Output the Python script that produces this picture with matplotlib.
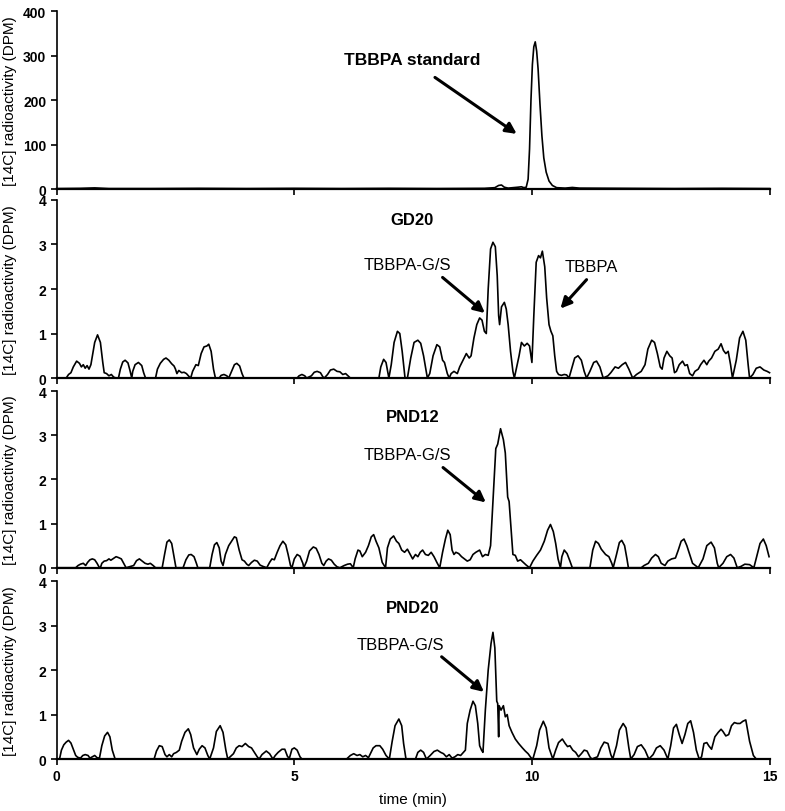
import matplotlib
matplotlib.use("Agg")
import matplotlib.pyplot as plt

plt.rcParams['font.family'] = ['Liberation Sans', 'DejaVu Sans']

# (time in min, DPM)
standard_points = [
    (0, 1), (0.5, 1.5), (0.8, 2.5), (1.1, 1), (2, 1), (3, 1.5), (4, 1), (5, 1.5), (6, 1),
    (7, 1.5), (8, 1), (9.0, 1.5), (9.22, 3), (9.3, 8), (9.36, 9), (9.42, 4), (9.5, 2),
    (9.6, 3), (9.7, 4), (9.78, 5), (9.83, 3), (9.88, 4), (9.92, 22), (9.95, 90), (9.98, 200),
    (10.01, 280), (10.04, 320), (10.07, 331), (10.1, 310), (10.13, 270), (10.17, 190),
    (10.21, 120), (10.25, 70), (10.3, 38), (10.36, 18), (10.43, 8), (10.52, 3), (10.7, 2),
    (10.85, 3.5), (11.0, 2), (12, 1.5), (13, 1), (14, 1.5), (15, 1),
]

gd20_points = [
    (0, 0), (0.2, 0), (0.25, 0.08), (0.3, 0.12), (0.35, 0.25), (0.42, 0.38), (0.48, 0.33),
    (0.52, 0.25), (0.56, 0.3), (0.6, 0.22), (0.64, 0.28), (0.68, 0.2), (0.72, 0.3),
    (0.76, 0.55), (0.8, 0.8), (0.86, 0.97), (0.92, 0.8), (0.97, 0.35), (1.0, 0.12),
    (1.05, 0.1), (1.1, 0.05), (1.15, 0.08), (1.2, 0.02), (1.25, 0),
    (1.3, 0), (1.34, 0.2), (1.39, 0.36), (1.44, 0.4), (1.5, 0.34), (1.54, 0.18), (1.58, 0),
    (1.6, 0.15), (1.65, 0.3), (1.72, 0.35), (1.79, 0.28), (1.83, 0.12), (1.87, 0),
    (2.08, 0), (2.12, 0.2), (2.18, 0.33), (2.25, 0.42), (2.3, 0.45), (2.36, 0.4), (2.42, 0.32),
    (2.47, 0.27), (2.5, 0.2), (2.53, 0.1), (2.57, 0.17), (2.63, 0.12), (2.68, 0.13),
    (2.73, 0.1), (2.78, 0.04), (2.82, 0),
    (2.86, 0.15), (2.93, 0.3), (2.98, 0.28), (3.04, 0.55), (3.1, 0.7), (3.16, 0.72),
    (3.2, 0.76), (3.25, 0.6), (3.3, 0.2), (3.34, 0),
    (3.42, 0), (3.46, 0.06), (3.52, 0.08), (3.58, 0.05), (3.62, 0),
    (3.68, 0.15), (3.74, 0.3), (3.79, 0.33), (3.85, 0.27), (3.9, 0.1), (3.94, 0),
    (5.06, 0), (5.1, 0.05), (5.16, 0.08), (5.22, 0.05), (5.26, 0),
    (5.36, 0.05), (5.42, 0.13), (5.48, 0.15), (5.55, 0.12), (5.6, 0.03), (5.63, 0),
    (5.7, 0.08), (5.76, 0.18), (5.83, 0.2), (5.9, 0.15), (5.96, 0.14), (6.02, 0.08),
    (6.08, 0.1), (6.13, 0.05), (6.18, 0),
    (6.78, 0), (6.82, 0.25), (6.88, 0.42), (6.93, 0.35), (6.99, 0),
    (7.04, 0.3), (7.1, 0.8), (7.17, 1.05), (7.22, 1.0), (7.27, 0.6), (7.33, 0),
    (7.38, 0), (7.45, 0.45), (7.52, 0.8), (7.6, 0.85), (7.66, 0.78), (7.72, 0.5), (7.8, 0),
    (7.85, 0.1), (7.92, 0.5), (8.0, 0.75), (8.06, 0.7), (8.12, 0.4), (8.16, 0.35),
    (8.22, 0.1), (8.26, 0),
    (8.3, 0.1), (8.36, 0.15), (8.43, 0.1), (8.48, 0.25), (8.55, 0.4), (8.62, 0.55),
    (8.68, 0.45), (8.72, 0.5), (8.78, 0.9), (8.84, 1.2), (8.9, 1.35), (8.95, 1.3),
    (9.0, 1.05), (9.04, 1.0), (9.08, 2.0), (9.13, 2.9), (9.18, 3.05), (9.23, 2.95),
    (9.27, 2.3), (9.3, 1.4), (9.32, 1.2), (9.36, 1.6), (9.42, 1.7), (9.46, 1.55), (9.5, 1.2),
    (9.55, 0.6), (9.6, 0.15), (9.63, 0),
    (9.67, 0.2), (9.73, 0.5), (9.78, 0.8), (9.84, 0.72), (9.9, 0.78), (9.95, 0.72),
    (10.0, 0.35), (10.04, 1.4), (10.09, 2.6), (10.14, 2.75), (10.18, 2.7), (10.22, 2.85),
    (10.27, 2.5), (10.31, 1.8), (10.36, 1.2), (10.4, 1.05), (10.44, 0.95), (10.48, 0.5),
    (10.52, 0.15), (10.56, 0.08), (10.62, 0.06), (10.68, 0.08), (10.73, 0.07), (10.78, 0),
    (10.82, 0.15), (10.9, 0.45), (10.97, 0.5), (11.04, 0.4), (11.1, 0.15), (11.15, 0),
    (11.22, 0.15), (11.3, 0.35), (11.36, 0.38), (11.43, 0.25), (11.5, 0),
    (11.6, 0.05), (11.66, 0.12), (11.75, 0.25), (11.82, 0.22), (11.9, 0.3), (11.97, 0.35),
    (12.04, 0.2), (12.12, 0),
    (12.2, 0.08), (12.3, 0.15), (12.38, 0.3), (12.44, 0.65), (12.52, 0.85), (12.58, 0.8),
    (12.64, 0.55), (12.7, 0.25), (12.74, 0.2), (12.78, 0.45), (12.84, 0.6), (12.9, 0.5),
    (12.95, 0.45), (13.0, 0.12), (13.04, 0.15), (13.1, 0.3), (13.17, 0.38), (13.22, 0.28),
    (13.27, 0.3), (13.32, 0.1), (13.38, 0.05), (13.43, 0.15), (13.5, 0.2), (13.55, 0.3),
    (13.62, 0.4), (13.68, 0.3), (13.72, 0.38), (13.78, 0.45), (13.85, 0.6), (13.92, 0.65),
    (13.98, 0.77), (14.03, 0.62), (14.08, 0.55), (14.13, 0.6), (14.18, 0.3), (14.22, 0),
    (14.3, 0.4), (14.37, 0.9), (14.44, 1.05), (14.5, 0.85), (14.55, 0.3), (14.58, 0),
    (14.65, 0.08), (14.72, 0.22), (14.8, 0.25), (14.88, 0.18), (14.95, 0.15), (15.0, 0.12),
]

pnd12_points = [
    (0, 0), (0.4, 0), (0.45, 0.05), (0.5, 0.08), (0.56, 0.1), (0.61, 0.05), (0.65, 0.12),
    (0.7, 0.18), (0.75, 0.2), (0.8, 0.18), (0.85, 0.1), (0.89, 0.02), (0.92, 0),
    (0.95, 0.1), (1.0, 0.15), (1.05, 0.16), (1.1, 0.2), (1.14, 0.17), (1.18, 0.2),
    (1.25, 0.25), (1.3, 0.23), (1.36, 0.2), (1.41, 0.1), (1.46, 0),
    (1.62, 0.05), (1.68, 0.16), (1.74, 0.2), (1.8, 0.15), (1.86, 0.1), (1.92, 0.08),
    (1.97, 0.1), (2.03, 0.05), (2.08, 0),
    (2.22, 0), (2.27, 0.3), (2.32, 0.58), (2.37, 0.63), (2.42, 0.55), (2.47, 0.25), (2.51, 0),
    (2.66, 0), (2.72, 0.18), (2.78, 0.29), (2.83, 0.3), (2.89, 0.25), (2.94, 0.1), (2.97, 0),
    (3.22, 0), (3.27, 0.3), (3.32, 0.52), (3.37, 0.57), (3.42, 0.45), (3.46, 0.15),
    (3.5, 0.05), (3.55, 0.3), (3.62, 0.5), (3.68, 0.6), (3.74, 0.7), (3.78, 0.68),
    (3.84, 0.4), (3.9, 0.18), (3.95, 0.15), (4.0, 0.08), (4.04, 0.05), (4.1, 0.12),
    (4.16, 0.17), (4.22, 0.15), (4.28, 0.06), (4.34, 0.03), (4.42, 0),
    (4.48, 0.12), (4.53, 0.2), (4.58, 0.18), (4.64, 0.35), (4.7, 0.5), (4.76, 0.6),
    (4.82, 0.52), (4.87, 0.3), (4.92, 0.05), (4.95, 0),
    (5.0, 0.2), (5.06, 0.3), (5.12, 0.26), (5.18, 0.1), (5.2, 0),
    (5.26, 0.15), (5.32, 0.38), (5.4, 0.47), (5.46, 0.44), (5.52, 0.3), (5.58, 0.1),
    (5.62, 0.05), (5.67, 0.15), (5.72, 0.2), (5.78, 0.17), (5.84, 0.08), (5.9, 0.02), (5.96, 0),
    (6.05, 0.05), (6.12, 0.08), (6.18, 0.09), (6.24, 0),
    (6.28, 0.2), (6.34, 0.4), (6.38, 0.38), (6.43, 0.25), (6.5, 0.35), (6.56, 0.5),
    (6.62, 0.7), (6.67, 0.75), (6.72, 0.6), (6.78, 0.45), (6.85, 0.12), (6.92, 0),
    (6.96, 0.45), (7.02, 0.65), (7.09, 0.72), (7.15, 0.6), (7.2, 0.55), (7.26, 0.4),
    (7.32, 0.35), (7.38, 0.42), (7.44, 0.3), (7.49, 0.2), (7.55, 0.3), (7.6, 0.25),
    (7.65, 0.35), (7.7, 0.4), (7.76, 0.3), (7.82, 0.28), (7.88, 0.35), (7.94, 0.25),
    (8.0, 0.12), (8.06, 0),
    (8.12, 0.35), (8.18, 0.65), (8.23, 0.85), (8.28, 0.75), (8.32, 0.4), (8.36, 0.3),
    (8.4, 0.35), (8.46, 0.32), (8.52, 0.25), (8.58, 0.2), (8.64, 0.15), (8.7, 0.18),
    (8.76, 0.3), (8.82, 0.35), (8.9, 0.4), (8.96, 0.25), (9.02, 0.3), (9.08, 0.28),
    (9.13, 0.5), (9.18, 1.5), (9.24, 2.7), (9.28, 2.8), (9.34, 3.15), (9.4, 2.9),
    (9.44, 2.6), (9.49, 1.6), (9.52, 1.5), (9.56, 0.9), (9.6, 0.3), (9.65, 0.28),
    (9.7, 0.15), (9.76, 0.18), (9.82, 0.12), (9.88, 0.06), (9.95, 0),
    (10.02, 0.15), (10.1, 0.28), (10.18, 0.4), (10.26, 0.6), (10.33, 0.85), (10.39, 0.98),
    (10.45, 0.82), (10.5, 0.55), (10.55, 0.2), (10.6, 0),
    (10.63, 0.25), (10.68, 0.4), (10.74, 0.32), (10.8, 0.15), (10.85, 0),
    (11.22, 0), (11.28, 0.4), (11.34, 0.6), (11.4, 0.55), (11.46, 0.42), (11.55, 0.3),
    (11.62, 0.25), (11.68, 0.1), (11.71, 0),
    (11.78, 0.3), (11.84, 0.57), (11.89, 0.62), (11.95, 0.5), (12.0, 0.2), (12.03, 0),
    (12.3, 0), (12.36, 0.05), (12.45, 0.1), (12.52, 0.22), (12.6, 0.3), (12.66, 0.25),
    (12.72, 0.1), (12.8, 0.05), (12.86, 0.15), (12.94, 0.2), (13.02, 0.22), (13.08, 0.4),
    (13.14, 0.6), (13.2, 0.65), (13.26, 0.5), (13.32, 0.3), (13.38, 0.1), (13.44, 0.05),
    (13.5, 0),
    (13.6, 0.2), (13.68, 0.5), (13.77, 0.58), (13.84, 0.45), (13.9, 0.1), (13.93, 0),
    (14.02, 0.1), (14.1, 0.25), (14.18, 0.3), (14.25, 0.22), (14.32, 0),
    (14.4, 0.03), (14.48, 0.08), (14.58, 0.07), (14.67, 0),
    (14.74, 0.3), (14.8, 0.55), (14.87, 0.65), (14.93, 0.5), (14.99, 0.25),
]

pnd20_points = [
    (0, 0), (0.06, 0), (0.1, 0.2), (0.15, 0.32), (0.2, 0.38), (0.25, 0.42), (0.3, 0.36),
    (0.35, 0.22), (0.4, 0.08), (0.44, 0.04), (0.5, 0.02), (0.55, 0.08), (0.6, 0.1),
    (0.66, 0.08), (0.7, 0.02), (0.75, 0.05), (0.8, 0.08), (0.85, 0.03), (0.9, 0.02),
    (0.95, 0.3), (1.01, 0.52), (1.07, 0.6), (1.12, 0.5), (1.17, 0.2), (1.23, 0),
    (2.05, 0), (2.1, 0.18), (2.16, 0.3), (2.22, 0.28), (2.28, 0.1), (2.32, 0.05), (2.37, 0.1),
    (2.42, 0.05), (2.46, 0.12), (2.52, 0.15), (2.58, 0.2), (2.63, 0.4), (2.7, 0.6),
    (2.77, 0.68), (2.82, 0.55), (2.88, 0.25), (2.95, 0.1), (3.0, 0.22), (3.06, 0.3),
    (3.12, 0.25), (3.18, 0.08), (3.22, 0),
    (3.3, 0.25), (3.36, 0.62), (3.44, 0.75), (3.5, 0.6), (3.56, 0.2), (3.6, 0),
    (3.72, 0.12), (3.78, 0.25), (3.84, 0.3), (3.9, 0.28), (3.97, 0.35), (4.04, 0.28),
    (4.1, 0.25), (4.16, 0.15), (4.22, 0.05), (4.26, 0),
    (4.32, 0.1), (4.41, 0.18), (4.48, 0.12), (4.55, 0),
    (4.6, 0.08), (4.66, 0.15), (4.74, 0.22), (4.8, 0.22), (4.86, 0.05), (4.9, 0.03),
    (4.95, 0.22), (5.0, 0.25), (5.06, 0.2), (5.12, 0.05), (5.16, 0),
    (6.1, 0), (6.18, 0.08), (6.25, 0.12), (6.32, 0.08), (6.38, 0.1), (6.44, 0.05),
    (6.5, 0.08), (6.56, 0.03), (6.6, 0.12), (6.66, 0.25), (6.72, 0.3), (6.8, 0.3),
    (6.86, 0.22), (6.93, 0.08), (7.0, 0),
    (7.06, 0.4), (7.12, 0.75), (7.2, 0.9), (7.26, 0.75), (7.3, 0.35), (7.35, 0),
    (7.55, 0), (7.6, 0.15), (7.66, 0.2), (7.72, 0.15), (7.78, 0),
    (7.86, 0.08), (7.94, 0.17), (8.01, 0.2), (8.08, 0.15), (8.14, 0.12), (8.2, 0.05),
    (8.26, 0.1), (8.32, 0.02), (8.38, 0.05), (8.44, 0.1), (8.5, 0.08), (8.56, 0.15),
    (8.6, 0.2), (8.64, 0.8), (8.7, 1.1), (8.76, 1.3), (8.81, 1.2), (8.86, 0.8), (8.9, 0.3),
    (8.94, 0.2), (8.97, 0.15), (9.02, 1.1), (9.08, 2.0), (9.14, 2.6), (9.18, 2.85),
    (9.22, 2.5), (9.26, 1.3), (9.28, 1.25), (9.3, 0.5), (9.31, 1.2), (9.35, 1.1), (9.4, 1.2),
    (9.44, 0.95), (9.48, 1.0), (9.52, 0.75), (9.58, 0.6), (9.65, 0.45), (9.72, 0.35),
    (9.8, 0.25), (9.86, 0.18), (9.92, 0.12), (9.98, 0.03), (10.02, 0),
    (10.1, 0.3), (10.16, 0.65), (10.24, 0.85), (10.3, 0.7), (10.36, 0.25), (10.44, 0),
    (10.5, 0.2), (10.56, 0.37), (10.64, 0.45), (10.7, 0.35), (10.75, 0.28), (10.8, 0.3),
    (10.86, 0.2), (10.92, 0.15), (10.98, 0.05), (11.04, 0.12), (11.1, 0.2), (11.16, 0.18),
    (11.22, 0.05), (11.26, 0),
    (11.38, 0.05), (11.45, 0.25), (11.52, 0.38), (11.6, 0.35), (11.66, 0.1), (11.7, 0),
    (11.78, 0.3), (11.84, 0.65), (11.92, 0.8), (11.98, 0.7), (12.04, 0.25), (12.08, 0),
    (12.15, 0.1), (12.22, 0.28), (12.3, 0.32), (12.38, 0.2), (12.46, 0),
    (12.55, 0.1), (12.62, 0.25), (12.7, 0.3), (12.78, 0.2), (12.86, 0),
    (12.92, 0.3), (12.98, 0.7), (13.04, 0.78), (13.1, 0.55), (13.16, 0.35), (13.22, 0.55),
    (13.28, 0.8), (13.34, 0.86), (13.4, 0.6), (13.46, 0.2), (13.52, 0),
    (13.57, 0.05), (13.62, 0.35), (13.68, 0.37), (13.72, 0.3), (13.78, 0.22), (13.85, 0.5),
    (13.92, 0.6), (13.98, 0.67), (14.02, 0.62), (14.08, 0.52), (14.14, 0.55), (14.2, 0.75),
    (14.26, 0.82), (14.32, 0.8), (14.38, 0.8), (14.44, 0.85), (14.5, 0.88), (14.58, 0.4),
    (14.66, 0.08), (14.72, 0), (15.0, 0),
]

panel_titles = ["TBBPA standard", "GD20", "PND12", "PND20"]
ylims = [400, 4, 4, 4]
yticks_list = [[0, 100, 200, 300, 400], [0, 1, 2, 3, 4], [0, 1, 2, 3, 4], [0, 1, 2, 3, 4]]
x_ticks = [0, 5, 10, 15]

# axes boxes in figure fractions (left, bottom, width, height)
boxes = [
    (0.0722, 0.766, 0.9081, 0.219),
    (0.0722, 0.5332, 0.9081, 0.2193),
    (0.0722, 0.2996, 0.9081, 0.2174),
    (0.0722, 0.064, 0.9081, 0.219),
]

fig = plt.figure(figsize=(7.85, 8.12), dpi=100)
traces = [standard_points, gd20_points, pnd12_points, pnd20_points]
axes = []
for i, (pts, box) in enumerate(zip(traces, boxes)):
    ax = fig.add_axes(box)
    t = [p[0] for p in pts]
    v = [p[1] for p in pts]
    ax.plot(t, v, color='black', lw=1.2, clip_on=False)
    ax.set_xlim(0, 15)
    ax.set_ylim(0, ylims[i])
    ax.set_yticks(yticks_list[i])
    ax.set_xticks(x_ticks)
    ax.spines['top'].set_visible(False)
    ax.spines['right'].set_visible(False)
    ax.spines['left'].set_linewidth(1.2)
    ax.spines['bottom'].set_linewidth(1.6)
    ax.tick_params(axis='both', direction='out', length=4, width=1.2, labelsize=10)
    for lab in ax.get_yticklabels():
        lab.set_fontweight('bold')
    if i < 3:
        ax.tick_params(axis='x', labelbottom=False)
    else:
        for lab in ax.get_xticklabels():
            lab.set_fontweight('bold')
        ax.set_xlabel("time (min)", fontsize=11, labelpad=6)
    ax.set_ylabel("[14C] radioactivity (DPM)", fontsize=11)
    ax.yaxis.set_label_coords(-0.056, 0.5)
    axes.append(ax)

arrow_style = dict(arrowstyle='-|>', color='black', lw=2.2, mutation_scale=16,
                   shrinkA=0, shrinkB=0)

# panel 1
axes[0].text(7.48, 292, "TBBPA standard", ha='center', va='center',
             fontsize=12.5, fontweight='bold')
axes[0].annotate("", xy=(9.68, 124), xytext=(7.96, 251), arrowprops=arrow_style)

# panel 2
axes[1].text(7.47, 3.57, "GD20", ha='center', va='center', fontsize=12, fontweight='bold')
axes[1].text(7.38, 2.56, "TBBPA-G/S", ha='center', va='center', fontsize=12)
axes[1].annotate("", xy=(9.01, 1.46), xytext=(8.12, 2.26), arrowprops=arrow_style)
axes[1].text(11.24, 2.51, "TBBPA", ha='center', va='center', fontsize=12)
axes[1].annotate("", xy=(10.60, 1.56), xytext=(11.15, 2.21), arrowprops=arrow_style)

# panel 3
axes[2].text(7.5, 3.43, "PND12", ha='center', va='center', fontsize=12, fontweight='bold')
axes[2].text(7.38, 2.57, "TBBPA-G/S", ha='center', va='center', fontsize=12)
axes[2].annotate("", xy=(9.03, 1.48), xytext=(8.13, 2.27), arrowprops=arrow_style)

# panel 4
axes[3].text(7.5, 3.40, "PND20", ha='center', va='center', fontsize=12, fontweight='bold')
axes[3].text(7.24, 2.58, "TBBPA-G/S", ha='center', va='center', fontsize=12)
axes[3].annotate("", xy=(8.99, 1.51), xytext=(8.10, 2.30), arrowprops=arrow_style)

fig.savefig("out.png", dpi=100)
